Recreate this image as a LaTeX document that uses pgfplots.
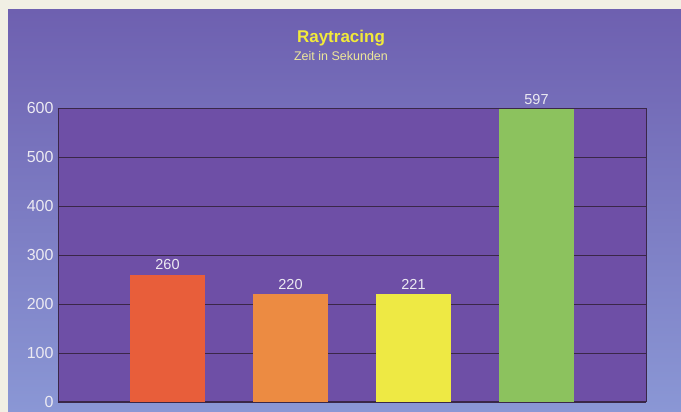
\documentclass[border=0pt]{standalone}
\usepackage{pgfplots}
\pgfplotsset{compat=1.18}
\usepackage{fontspec}
\setmainfont{Liberation Sans}
\definecolor{pagebg}{HTML}{F1EFE4}
\definecolor{bgtop}{HTML}{6E60B0}
\definecolor{bgbot}{HTML}{8A97D5}
\definecolor{plotbg}{HTML}{6E4FA6}
\definecolor{gridc}{HTML}{3A2748}
\definecolor{barA}{HTML}{E85E3A}
\definecolor{barB}{HTML}{EC8B42}
\definecolor{barC}{HTML}{EEE944}
\definecolor{barD}{HTML}{8CC25E}
\definecolor{titley}{HTML}{F2EA3A}
\definecolor{subt}{HTML}{EDE79A}
\definecolor{lbl}{HTML}{ECEAF2}
\begin{document}
\begin{tikzpicture}[x=1pt,y=1pt]
\fill[pagebg] (0,0) rectangle (681,412);
\shade[top color=bgtop, bottom color=bgbot] (8,0) rectangle (681,402);
\node[font=\bfseries\fontsize{17}{19}\selectfont, text=titley] at (341,374) {Raytracing};
\node[font=\fontsize{12.5}{14}\selectfont, text=subt] at (341,356) {Zeit in Sekunden};
\begin{axis}[
  at={(58pt,10pt)}, anchor=south west,
  scale only axis, width=588pt, height=294pt,
  xmin=-0.89, xmax=3.89, ymin=0, ymax=600,
  ytick={0,100,...,600},
  xtick=\empty,
  ymajorgrids, grid style={gridc, line width=0.9pt},
  axis background/.style={fill=plotbg},
  axis line style={gridc, line width=0.6pt},
  axis x line*=bottom, axis y line*=left,
  x axis line style={gridc, line width=2.2pt},
  major tick length=0pt,
  /pgf/number format/assume math mode=true,
  yticklabel style={font=\fontsize{16}{18}\selectfont, text=lbl, xshift=-1pt},
  ybar, bar width=0.61, bar shift=0pt,
  nodes near coords,
  every node near coord/.append style={font=\fontsize{14.5}{16}\selectfont, text=lbl, yshift=1pt},
  clip=false,
]
\addplot[fill=barA, draw=none] coordinates {(0,260)};
\addplot[fill=barB, draw=none] coordinates {(1,220)};
\addplot[fill=barC, draw=none] coordinates {(2,221)};
\addplot[fill=barD, draw=none] coordinates {(3,597)};
\draw[gridc, line width=0.6pt] (axis cs:-0.89,600) -- (axis cs:3.89,600) -- (axis cs:3.89,0);
\end{axis}
\end{tikzpicture}
\end{document}
